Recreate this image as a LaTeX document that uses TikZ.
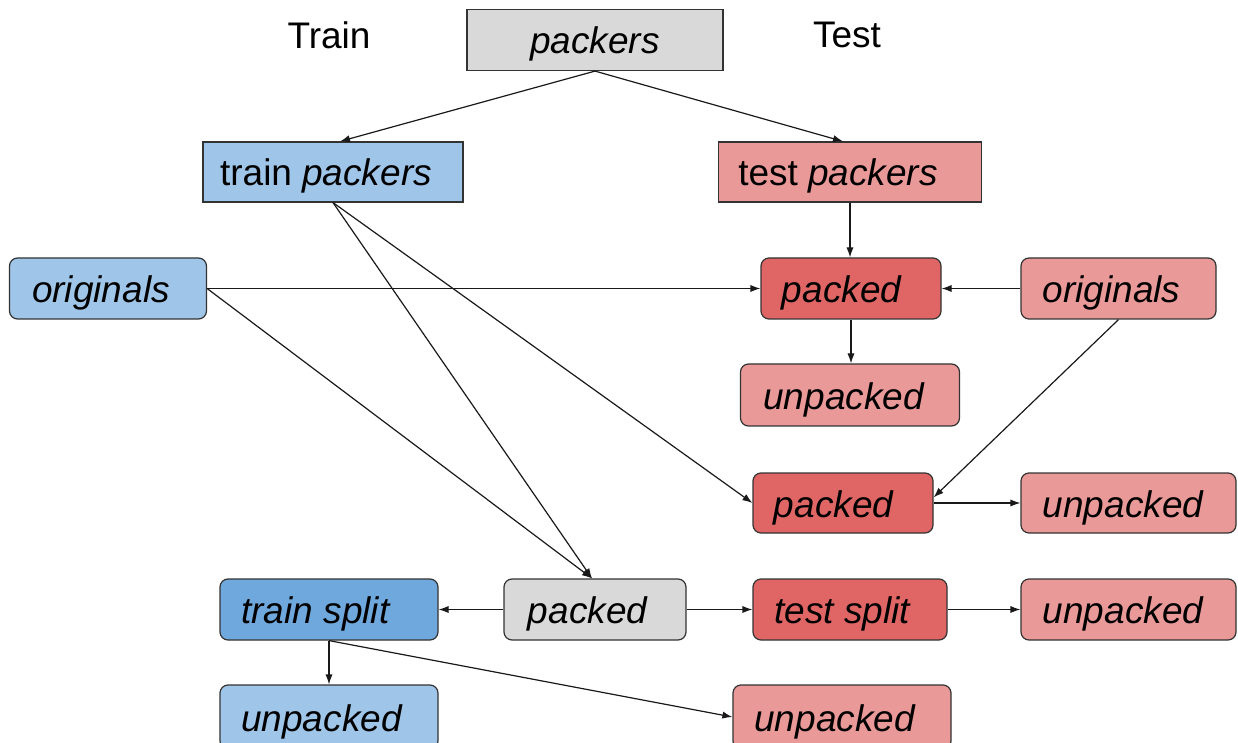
\documentclass[tikz,border=0pt]{standalone}
\usepackage{fontspec}
\setmainfont{Liberation Sans}
\usetikzlibrary{arrows.meta,calc}
\definecolor{greyfill}{HTML}{D9D9D9}
\definecolor{bluelight}{HTML}{9FC5E8}
\definecolor{bluemid}{HTML}{6FA8DC}
\definecolor{redlight}{HTML}{EA9999}
\definecolor{redmid}{HTML}{E06666}
\definecolor{edgegrey}{HTML}{333333}
\begin{document}
\begin{tikzpicture}[x=0.5pt,y=-0.5pt,
  txt/.style={font=\fontsize{18.5}{22}\selectfont},
  box/.style={txt, draw=edgegrey, line width=0.6pt, inner sep=0pt,
    text height=14pt, text depth=0pt},
  sq/.style={box},
  rnd/.style={box, rounded corners=4pt},
  wh/.style 2 args={minimum width=#1*0.5pt, minimum height=#2*0.5pt},
  nudge/.style={execute at end node={\hspace*{#1pt}}},
  nudge/.default=7,
  link/.style={draw=black!90, line width=0.6pt, -{Latex[length=5pt,width=3.6pt]}},
]
\path[use as bounding box, clip] (0,0) rectangle (1238,743);

% column headings
\node[txt] (trainlbl) at (329,35) {Train};
\node[txt] (testlbl) at (847,35) {Test};

% packer sets
\node[sq, fill=greyfill, wh={256}{61}] (packers) at (595,40) {\textit{packers}};
\node[sq, fill=bluelight, wh={260}{60}, nudge] (trainP) at (333,172) {train \textit{packers}};
\node[sq, fill=redlight, wh={263}{60}, nudge=12] (testP) at (850,172) {test \textit{packers}};

% test side
\node[rnd, fill=bluelight, wh={197}{61}, nudge] (origL) at (108,288.5) {\textit{originals}};
\node[rnd, fill=redmid, wh={180}{61}, nudge=9] (packedA) at (851,288.5) {\textit{packed}};
\node[rnd, fill=redlight, wh={195}{61}, nudge] (origR) at (1118.5,288.5) {\textit{originals}};
\node[rnd, fill=redlight, wh={219}{62}, nudge=6] (unpA) at (850,395) {\textit{unpacked}};
\node[rnd, fill=redmid, wh={180}{60}, nudge=9] (packedB) at (843,503) {\textit{packed}};
\node[rnd, fill=redlight, wh={215}{60}, nudge=5] (unpB) at (1128.5,503) {\textit{unpacked}};

% split row
\node[rnd, fill=greyfill, wh={182}{61}, nudge] (packedG) at (595,609.5) {\textit{packed}};
\node[rnd, fill=bluemid, wh={218}{61}, nudge=13] (trainS) at (329,609.5) {\textit{train split}};
\node[rnd, fill=redmid, wh={194}{61}, nudge] (testS) at (850,609.5) {\textit{test split}};
\node[rnd, fill=redlight, wh={215}{61}, nudge=5] (unpC) at (1128.5,609.5) {\textit{unpacked}};

% unpacked results (running off the lower edge)
\node[rnd, fill=bluelight, wh={218}{64}, nudge] (unpD) at (329,717) {\textit{unpacked}};
\node[rnd, fill=redlight, wh={218}{64}, nudge] (unpE) at (842,717) {\textit{unpacked}};

% connectors
\draw[link] (packers.south) -- ($(trainP.north)+(7,0)$);
\draw[link] (packers.south) -- ($(testP.north)+(-7,0)$);
\draw[link] (testP.south) -- (testP.south |- packedA.north);
\draw[link] (origL.east) -- (packedA.west);
\draw[link] (origR.west) -- (packedA.east);
\draw[link] (packedA.south) -- (packedA.south |- unpA.north);
\draw[link] (trainP.south) -- (packedB.west);
\draw[link] (trainP.south) -- ($(packedG.north)+(-3,0)$);
\draw[link] (origL.east) -- ($(packedG.north)+(-3,0)$);
\draw[link] (origR.south) -- ($(packedB.north east)+(0,25)$);
\draw[link] (packedB.east) -- (packedB.east -| unpB.west);
\draw[link] (packedG.west) -- (trainS.east);
\draw[link] (packedG.east) -- (testS.west);
\draw[link] (testS.east) -- (unpC.west);
\draw[link] (trainS.south) -- (trainS.south |- unpD.north);
\draw[link] (trainS.south) -- (unpE.west);
\end{tikzpicture}
\end{document}
